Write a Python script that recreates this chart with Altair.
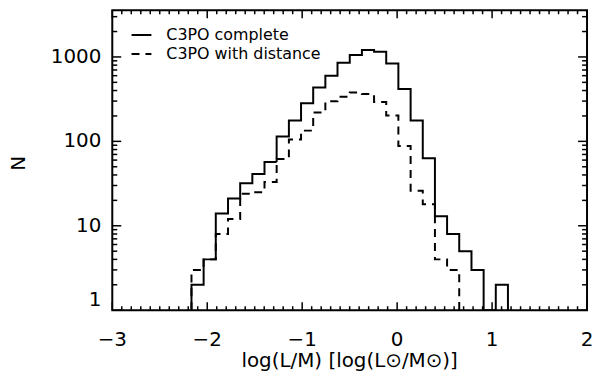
import math
import altair as alt
import pandas as pd

# ---- data ----
bin_edges = [-2.166, -2.038, -1.910, -1.781, -1.653, -1.525, -1.397, -1.269,
             -1.140, -1.012, -0.884, -0.756, -0.628, -0.499, -0.371, -0.243,
             -0.115, 0.013, 0.142, 0.270, 0.398, 0.526, 0.654, 0.783, 0.911,
             1.039, 1.167]
complete_counts = [2, 4, 14, 21, 32, 41, 57, 114, 177, 282, 434, 597, 856,
                   1055, 1205, 1150, 834, 417, 177, 63, 13, 8, 5, 3, 1, 2]
distance_counts = [3, 4, 8, 12, 24, 25, 33, 62, 105, 134, 220, 298, 338, 380,
                   363, 292, 202, 88, 26, 18, 4, 3]
series_names = ["C3PO complete", "C3PO with distance"]

x_major = [-3, -2, -1, 0, 1, 2]
x_labels = ["\u22123", "\u22122", "\u22121", "0", "1", "2"]
y_major = [1, 10, 100, 1000]
y_labels = ["1", "10", "100", "1000"]
x_title = "log(L/M)  [log(L\u2299/M\u2299)]"
y_title = "N"
x_minor = [round(-3 + 0.1 * k, 1) for k in range(51) if k % 10]
x_lo, x_hi = -3, 2
y_lo, y_top = 1, 3573
y_minor = [m * 10 ** d for d in range(4) for m in range(2, 10) if m * 10 ** d < y_top]


def step_rows(name, counts):
    rows = [{"series": name, "x": bin_edges[0], "n": 1, "i": 0}]
    for k, c in enumerate(counts):
        rows.append({"series": name, "x": bin_edges[k], "n": c, "i": k + 1})
    rows.append({"series": name, "x": bin_edges[len(counts)], "n": 1, "i": len(counts) + 1})
    return rows


df = pd.DataFrame(step_rows(series_names[0], complete_counts) +
                  step_rows(series_names[1], distance_counts))

FONT = "DejaVu Sans"
W, H = 478, 302
xs = alt.Scale(domain=[x_lo, x_hi], nice=False, zero=False)
ys = alt.Scale(type="log", domain=[y_lo, y_top], nice=False)

# pixel lengths of the inward ticks, turned into scale units
px_per_x = W / (x_hi - x_lo)
px_per_decade = H / math.log10(y_top / y_lo)


def y_up(px):
    return 10 ** (px / px_per_decade)


tick_rows = []


def add_seg(x0, y0, x1, y1):
    s = len(tick_rows) // 2
    tick_rows.append({"tx": x0, "ty": y0, "seg": s, "o": 0})
    tick_rows.append({"tx": x1, "ty": y1, "seg": s, "o": 1})


for vals, ln in ((x_major, 8), (x_minor, 4)):
    for v in vals:
        add_seg(v, y_lo, v, y_lo * y_up(ln))            # bottom edge
        add_seg(v, y_top, v, y_top / y_up(ln))          # top edge
for vals, ln in ((y_major, 9), (y_minor, 5)):
    for v in vals:
        add_seg(x_lo, v, x_lo + ln / px_per_x, v)       # left edge
        add_seg(x_hi, v, x_hi - ln / px_per_x, v)       # right edge

ticks_df = pd.DataFrame(tick_rows)

lines = alt.Chart(df).mark_line(
    interpolate="step-after", strokeWidth=2, color="black", clip=True,
    strokeCap="butt", strokeJoin="miter"
).encode(
    x=alt.X("x:Q", scale=xs, axis=None),
    y=alt.Y("n:Q", scale=ys, axis=None),
    strokeDash=alt.StrokeDash("series:N", scale=alt.Scale(
        domain=series_names, range=[[1, 0], [8, 6]]),
        legend=alt.Legend(title=None, orient="none", legendX=18.4, legendY=14,
                          symbolType="stroke", symbolSize=400,
                          symbolStrokeWidth=2, symbolStrokeColor="black",
                          labelFont=FONT, labelFontSize=16, labelColor="black",
                          labelOffset=14, rowPadding=0, padding=0)),
    order="i:Q",
)

ticks = alt.Chart(ticks_df).mark_line(
    color="black", strokeWidth=1.5, strokeCap="butt"
).encode(
    x=alt.X("tx:Q", scale=xs, axis=None),
    y=alt.Y("ty:Q", scale=ys, axis=None),
    detail="seg:N",
    order="o:Q",
)

xlab_df = pd.DataFrame({"v": x_major, "lab": x_labels})
ylab_df = pd.DataFrame({"v": y_major, "lab": y_labels})

x_tick_labels = alt.Chart(xlab_df).mark_text(
    font=FONT, fontSize=20, color="black", align="center", baseline="top"
).encode(x=alt.X("v:Q", scale=xs, axis=None), y=alt.value(H + 20), text="lab:N")

y_tick_labels = alt.Chart(ylab_df).transform_filter("datum.v > 1").mark_text(
    font=FONT, fontSize=20, color="black", align="right", baseline="middle"
).encode(y=alt.Y("v:Q", scale=ys, axis=None), x=alt.value(-11), text="lab:N")

y_tick_label_low = alt.Chart(ylab_df).transform_filter("datum.v == 1").mark_text(
    font=FONT, fontSize=20, color="black", align="right", baseline="bottom"
).encode(y=alt.Y("v:Q", scale=ys, axis=None), x=alt.value(-11), text="lab:N")

x_title_mark = alt.Chart(pd.DataFrame({"t": [x_title]})).mark_text(
    font=FONT, fontSize=20, color="black", align="center", baseline="middle"
).encode(x=alt.value(W / 2), y=alt.value(H + 51), text="t:N")

y_title_mark = alt.Chart(pd.DataFrame({"t": [y_title]})).mark_text(
    font=FONT, fontSize=20, color="black", align="center", baseline="middle",
    angle=270
).encode(x=alt.value(-94), y=alt.value(154), text="t:N")

chart = alt.layer(
    lines, ticks, x_tick_labels, y_tick_labels, y_tick_label_low,
    x_title_mark, y_title_mark
).properties(
    width=W, height=H,
    autosize=alt.AutoSizeParams(type="none"),
    padding={"left": 105, "top": 1, "right": 5, "bottom": 68},
).configure(
    font=FONT,
    view=alt.ViewConfig(stroke="black", strokeWidth=2),
)

chart.save("out.html", embed_options={"renderer": "svg", "actions": False})
